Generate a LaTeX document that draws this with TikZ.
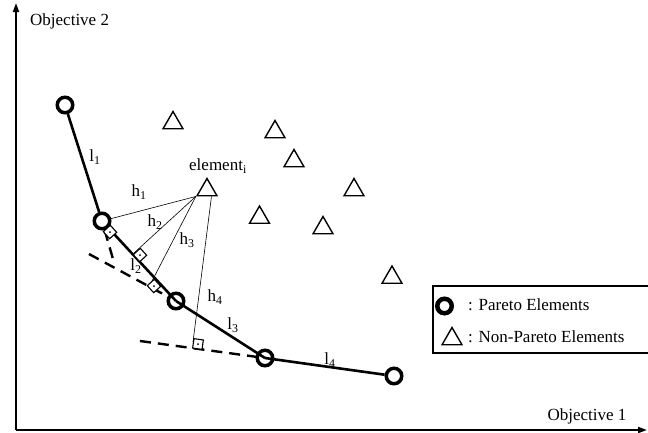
\documentclass[tikz,border=0pt]{standalone}
\usepackage{fontspec}
\setmainfont{Liberation Serif}
\usetikzlibrary{shapes.geometric,arrows.meta,calc}
\begin{document}
\begin{tikzpicture}[x=1pt,y=-1pt,
 pareto/.style={circle,draw,line width=3.5pt,minimum size=15.5pt,inner sep=0pt},
 nonpareto/.style={regular polygon,regular polygon sides=3,draw,line width=1.4pt,minimum size=23pt,inner sep=0pt},
 seg/.style={line width=2.6pt},
 hline/.style={line width=0.6pt},
 ext/.style={line width=2.4pt,dash pattern=on 11pt off 7pt},
 rmark/.style={draw,line width=1.1pt,minimum size=9.5pt,inner sep=0pt,fill=white},
 lab/.style={font=\fontsize{17}{20}\selectfont,inner sep=0pt},
 axis/.style={line width=1.8pt,-{Triangle[length=9pt,width=6pt]}}
]
\useasboundingbox (0,0) rectangle (648,432);
% axes
\coordinate (O) at (16,430);
\coordinate (ytop) at (16,3);
\coordinate (xend) at (647,430);
\draw[axis] (O) -- (ytop);
\draw[axis] (O) -- (xend);
\node[lab,anchor=west] (obj2) at (30,21) {Objective 2};
\node[lab] (obj1) at (587,416) {Objective 1};

% nodes
\node[pareto] (p1) at (65,105) {};
\node[pareto] (p2) at (102,221) {};
\node[pareto] (p3) at (176,301) {};
\node[pareto] (p4) at (265,358) {};
\node[pareto] (p5) at (394,376) {};

\node[nonpareto] (t1) at (173,123) {};
\node[nonpareto] (t2) at (275,132) {};
\node[nonpareto] (t3) at (294,161) {};
\node[nonpareto] (el) at (207,190) {};
\node[nonpareto] (t5) at (354,190) {};
\node[nonpareto] (t6) at (259.5,217.5) {};
\node[nonpareto] (t7) at (323,228) {};
\node[nonpareto] (t8) at (392,277.5) {};
\node[lab] (elab) at (218,166) {element\textsubscript{i}};

% dashed extensions
\coordinate (e1) at (113,259);
\coordinate (e2) at (89,254);
\coordinate (e3) at (140,341);
\draw[ext] (p2) -- (e1);
\draw[ext] (e2) -- (p3);
\draw[ext] (e3) -- (p4.center);

% pareto front segments
\draw[seg] (p1) -- (p2);
\draw[seg] (p2) -- (p3.center);
\draw[seg] (p3.center) -- (p4.center);
\draw[seg] (p4.center) -- (p5);

% distance lines
\coordinate (f2) at (134,253);
\coordinate (f3) at (151,283);
\coordinate (f4) at (193,342);
\coordinate (el4) at ($(el.corner 2)!0.7!(el.corner 3)$);
\draw[hline] (el.corner 2) -- (p2);
\draw[hline] (el.corner 2) -- (f2);
\draw[hline] (el.corner 2) -- (f3);
\draw[hline] (el4) -- (f4);

% right angle marks
\node[rmark,rotate=-47.6] (sq1) at (110,232) {};
\node[rmark,rotate=-47.6] (sq2) at (140,255) {};
\node[rmark,rotate=-47.6] (sq3) at (154,286) {};
\node[rmark,rotate=-8] (sq4) at (198,344) {};
\foreach \s in {sq1,sq2,sq3,sq4} \fill (\s.center) circle (1);

% labels
\node[lab] (l1) at (95,157) {l\textsubscript{1}};
\node[lab] (l2) at (136,266) {l\textsubscript{2}};
\node[lab] (l3) at (233,325) {l\textsubscript{3}};
\node[lab] (l4) at (330,360) {l\textsubscript{4}};
\node[lab] (h1) at (139,192) {h\textsubscript{1}};
\node[lab] (h2) at (155,222) {h\textsubscript{2}};
\node[lab] (h3) at (187,240) {h\textsubscript{3}};
\node[lab] (h4) at (215,297) {h\textsubscript{4}};

% legend
\node[draw,line width=2pt,minimum width=216pt,minimum height=67pt,anchor=north west,inner sep=0pt] (legend) at (432,285) {};
\node[pareto,line width=4.5pt,minimum size=14.5pt] (lp) at (444.5,306) {};
\node[nonpareto] (lt) at (452,339) {};
\node[lab,anchor=west] (lpt) at (468,305) {: Pareto Elements};
\node[lab,anchor=west] (ltt) at (468,337) {: Non-Pareto Elements};
\end{tikzpicture}
\end{document}
